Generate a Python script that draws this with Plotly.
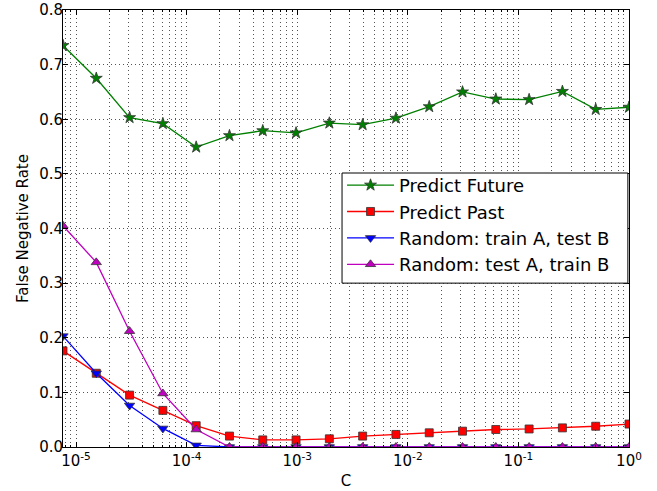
import numpy as np
import plotly.graph_objects as go

C = [2.0 ** k for k in range(-17, 1)]
predict_future = [0.735, 0.675, 0.603, 0.592, 0.549, 0.570, 0.579, 0.575, 0.593,
                  0.590, 0.602, 0.623, 0.650, 0.637, 0.636, 0.651, 0.618, 0.622]
predict_past = [0.176, 0.135, 0.095, 0.067, 0.039, 0.020, 0.013, 0.013, 0.015,
                0.020, 0.023, 0.026, 0.029, 0.032, 0.033, 0.035, 0.038, 0.042]
random_trainA = [0.203, 0.135, 0.076, 0.034, 0.003, 0.0, 0.0, 0.0, 0.0,
                 0.0, 0.0, 0.0, 0.0, 0.0, 0.0, 0.0, 0.0, 0.0]
random_testA = [0.405, 0.338, 0.212, 0.098, 0.032, 0.0, 0.0, 0.0, 0.0,
                0.0, 0.0, 0.0, 0.0, 0.0, 0.0, 0.0, 0.0, 0.0]

series_names = ["Predict Future", "Predict Past", "Random: train A, test B", "Random: test A, train B"]
series_values = [predict_future, predict_past, random_trainA, random_testA]
series_colors = ["#008000", "#ff0000", "#0000ff", "#bf00bf"]
series_symbols = ["star", "square", "triangle-down", "triangle-up"]
series_sizes = [9, 8, 9, 9]

x_major = [1e-5, 1e-4, 1e-3, 1e-2, 1e-1, 1e0]
x_major_text = ["10<sup>-5</sup>", "10<sup>-4</sup>", "10<sup>-3</sup>",
                "10<sup>-2</sup>", "10<sup>-1</sup>", "10<sup>0</sup>"]
x_minor = [m * 10.0 ** e for e in range(-6, 0) for m in range(2, 10)]
x_minor = [v for v in x_minor if v >= 2.0 ** -17 and v <= 1.0]

fig = go.Figure()
for name, vals, col, sym, sz in zip(series_names, series_values, series_colors, series_symbols, series_sizes):
    fig.add_trace(go.Scatter(
        x=C, y=vals, name=name, mode="lines+markers",
        line=dict(color=col, width=1.3),
        marker=dict(symbol=sym, size=sz, color=col, line=dict(color="#333333", width=0.8)),
    ))

# legend frame drawn as a shape so its size matches the reference
fig.add_shape(type="rect", xref="paper", yref="paper",
              x0=0.493, x1=0.998, y0=0.375, y1=0.627,
              fillcolor="white", line=dict(color="black", width=1), layer="above")

font = "DejaVu Sans, sans-serif"
grid_dash = "1px,3px"
fig.update_layout(
    width=657, height=491,
    margin=dict(l=63, r=28, t=10, b=44),
    paper_bgcolor="white", plot_bgcolor="white",
    font=dict(family=font, size=15, color="black"),
    showlegend=True,
    legend=dict(
        x=0.493, y=0.641, xanchor="left", yanchor="top",
        bgcolor="rgba(0,0,0,0)", borderwidth=0,
        font=dict(family=font, size=18, color="black"),
        tracegroupgap=0, itemwidth=47,
    ),
    xaxis=dict(
        type="log", range=[np.log10(2.0 ** -17), 0],
        tickvals=x_major, ticktext=x_major_text,
        ticks="inside", ticklen=5, tickcolor="black",
        showline=True, linecolor="black", linewidth=1, mirror="ticks",
        showgrid=True, gridcolor="#555555", griddash=grid_dash, gridwidth=1,
        minor=dict(tickvals=x_minor, ticks="inside", ticklen=2, tickcolor="black",
                   showgrid=True, gridcolor="#555555", griddash=grid_dash, gridwidth=1),
        title=dict(text="C", font=dict(size=15), standoff=6),
        zeroline=False, automargin=False,
        tickfont=dict(size=15),
    ),
    yaxis=dict(
        range=[0, 0.8], tickvals=[0, 0.1, 0.2, 0.3, 0.4, 0.5, 0.6, 0.7, 0.8],
        tickformat=".1f",
        ticks="inside", ticklen=5, tickcolor="black",
        showline=True, linecolor="black", linewidth=1, mirror="ticks",
        showgrid=True, gridcolor="#555555", griddash=grid_dash, gridwidth=1,
        title=dict(text="False Negative Rate", font=dict(size=15), standoff=6),
        zeroline=False, automargin=False,
        tickfont=dict(size=15), ticklabelstandoff=-4,
    ),
)

fig.write_html("out.html", config={"displayModeBar": False},
               post_script="document.body.style.margin='0';")
